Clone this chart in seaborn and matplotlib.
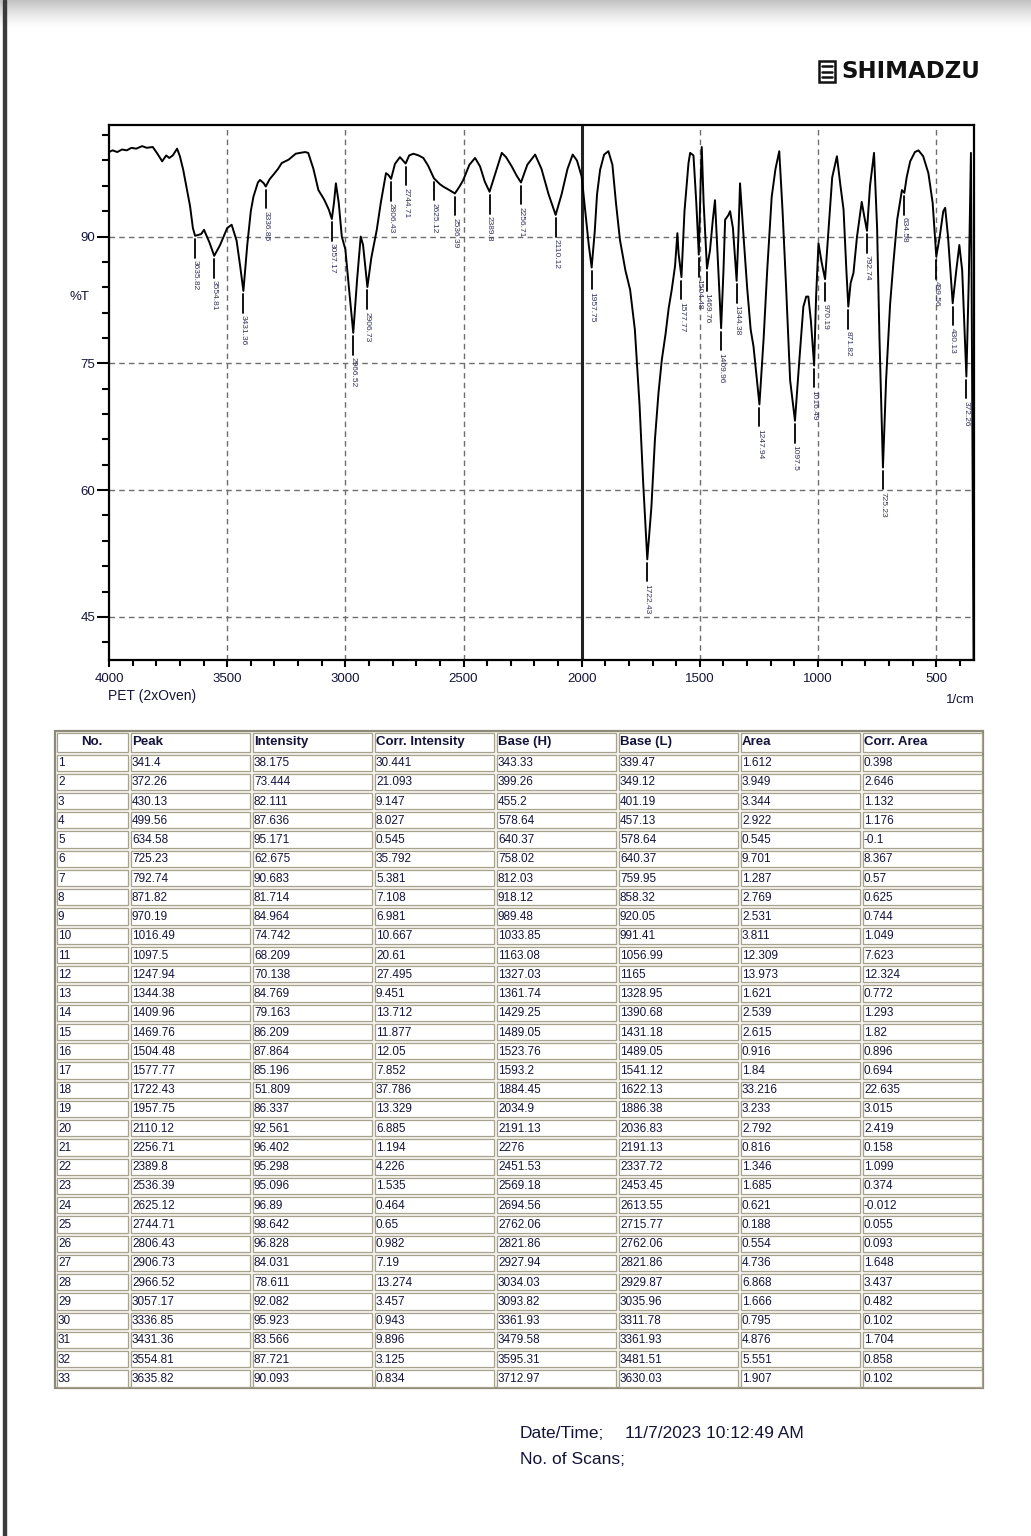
import numpy as np
import pandas as pd
import matplotlib
matplotlib.use("Agg")
import matplotlib.pyplot as plt
import seaborn as sns
from matplotlib.patches import Rectangle
from matplotlib.ticker import MultipleLocator

# --- spectrum trace (1/cm, %T) ---
wavenumber = [
    4000, 3985, 3965, 3945, 3925, 3905, 3885, 3860, 3840, 3815, 3795, 3775, 3758, 3745,
    3730, 3712, 3700, 3686, 3670, 3657, 3645, 3635.82, 3610, 3598, 3575, 3554.81, 3530,
    3500, 3481, 3460, 3445, 3431.36, 3415, 3400, 3389, 3370, 3361, 3345, 3336.85, 3320,
    3305, 3285, 3269, 3240, 3210, 3192, 3170, 3157, 3135, 3114, 3090, 3070, 3057.17,
    3048, 3040, 3028, 3015, 3000, 2985, 2966.52, 2950, 2935, 2925, 2906.73, 2890, 2867,
    2850, 2828, 2818, 2806.43, 2790, 2769, 2744.71, 2730, 2712, 2690, 2670, 2650,
    2625.12, 2600, 2585, 2560, 2536.39, 2515, 2501, 2475, 2451, 2430, 2410, 2389.8,
    2365, 2338, 2320, 2296, 2275, 2256.71, 2230, 2197, 2170, 2140, 2110.12, 2085, 2060,
    2038, 2020, 2000, 1985, 1970, 1957.75, 1945, 1935, 1922, 1905, 1887, 1870, 1855,
    1838, 1815, 1795, 1775, 1755, 1740, 1722.43, 1705, 1690, 1675, 1661, 1645, 1632,
    1619, 1605, 1595, 1590, 1577.77, 1565, 1548, 1541, 1527, 1515, 1504.48, 1497, 1492,
    1484, 1469.76, 1457, 1445, 1436, 1425, 1409.96, 1400, 1393, 1380, 1372, 1360,
    1344.38, 1337, 1330, 1315, 1300, 1285, 1273, 1247.94, 1230, 1215, 1196, 1180, 1164,
    1150, 1135, 1118, 1097.5, 1080, 1062, 1050, 1041, 1030, 1016.49, 1008, 998, 985,
    970.19, 955, 940, 920, 905, 892, 880, 871.82, 862, 850, 835, 815, 805, 792.74, 780,
    763, 750, 740, 725.23, 712, 695, 681, 665, 645, 634.58, 625, 610, 590, 575, 555,
    533, 515, 499.56, 485, 470, 462, 450, 430.13, 415, 402, 390, 372.26, 362, 353, 341.4,
]
transmittance = [
    100.0, 100.2, 100.0, 100.3, 100.2, 100.5, 100.4, 100.7, 100.5, 100.6, 99.8, 98.9, 99.6, 99.3,
    99.6, 100.4, 99.5, 97.9, 95.5, 93.6, 91.0, 90.09, 90.3, 90.8, 89.3, 87.72, 89.0,
    91.0, 91.4, 89.5, 86.5, 83.57, 89.0, 93.0, 94.7, 96.4, 96.7, 96.3, 95.92, 96.8,
    97.3, 98.0, 98.7, 99.1, 99.8, 99.9, 100.0, 99.9, 98.0, 95.5, 94.4, 93.2, 92.08,
    94.0, 96.3, 94.0, 90.0, 88.5, 84.0, 78.61, 85.0, 90.0, 89.0, 84.03, 87.5, 90.8,
    94.0, 97.5, 97.3, 96.83, 98.6, 99.4, 98.64, 99.6, 99.8, 99.6, 99.3, 98.4,
    96.89, 96.2, 95.9, 95.5, 95.10, 96.0, 96.7, 98.5, 99.3, 98.3, 96.5, 95.30,
    97.5, 99.9, 99.4, 98.3, 97.2, 96.40, 98.5, 99.7, 98.0, 95.0, 92.56, 95.0, 98.0,
    99.7, 99.0, 97.1, 93.0, 89.0, 86.34, 90.5, 95.0, 97.9, 99.7, 100.1, 98.5, 94.0,
    89.6, 86.0, 83.7, 79.0, 70.0, 61.0, 51.81, 58.0, 66.0, 71.5, 75.4, 78.5, 81.5,
    83.7, 86.5, 90.4, 88.0, 85.20, 93.0, 98.7, 99.9, 99.6, 94.0, 87.86, 96.0, 100.6,
    94.0, 86.21, 88.4, 92.0, 94.3, 88.0, 79.16, 86.0, 92.0, 92.5, 93.0, 91.0,
    84.77, 90.0, 96.3, 90.0, 84.0, 79.0, 77.0, 70.14, 78.0, 86.0, 94.7, 98.0, 100.1,
    93.0, 84.0, 73.0, 68.21, 75.0, 81.7, 82.9, 82.9, 80.0, 74.74, 83.0, 89.2, 87.0,
    84.96, 91.0, 97.0, 99.5, 96.0, 93.2, 86.0, 81.71, 84.5, 85.7, 90.0, 94.1, 92.5, 90.68, 96.0,
    99.9, 91.0, 78.0, 62.68, 73.0, 82.0, 86.9, 92.0, 95.5, 95.17, 97.0, 98.9, 100.0, 100.2, 99.5,
    97.5, 94.0, 87.64, 90.0, 93.0, 93.4, 90.0, 82.11, 86.0, 89.0, 86.0, 73.44, 85.0, 99.9, 38.18,
]

# --- peak table ---
peak_no = list(range(1, 34))
peak = [341.4, 372.26, 430.13, 499.56, 634.58, 725.23, 792.74, 871.82, 970.19, 1016.49,
        1097.5, 1247.94, 1344.38, 1409.96, 1469.76, 1504.48, 1577.77, 1722.43, 1957.75,
        2110.12, 2256.71, 2389.8, 2536.39, 2625.12, 2744.71, 2806.43, 2906.73, 2966.52,
        3057.17, 3336.85, 3431.36, 3554.81, 3635.82]
intensity = [38.175, 73.444, 82.111, 87.636, 95.171, 62.675, 90.683, 81.714, 84.964, 74.742,
             68.209, 70.138, 84.769, 79.163, 86.209, 87.864, 85.196, 51.809, 86.337,
             92.561, 96.402, 95.298, 95.096, 96.89, 98.642, 96.828, 84.031, 78.611,
             92.082, 95.923, 83.566, 87.721, 90.093]
corr_intensity = [30.441, 21.093, 9.147, 8.027, 0.545, 35.792, 5.381, 7.108, 6.981, 10.667,
                  20.61, 27.495, 9.451, 13.712, 11.877, 12.05, 7.852, 37.786, 13.329,
                  6.885, 1.194, 4.226, 1.535, 0.464, 0.65, 0.982, 7.19, 13.274,
                  3.457, 0.943, 9.896, 3.125, 0.834]
base_h = [343.33, 399.26, 455.2, 578.64, 640.37, 758.02, 812.03, 918.12, 989.48, 1033.85,
          1163.08, 1327.03, 1361.74, 1429.25, 1489.05, 1523.76, 1593.2, 1884.45, 2034.9,
          2191.13, 2276, 2451.53, 2569.18, 2694.56, 2762.06, 2821.86, 2927.94, 3034.03,
          3093.82, 3361.93, 3479.58, 3595.31, 3712.97]
base_l = [339.47, 349.12, 401.19, 457.13, 578.64, 640.37, 759.95, 858.32, 920.05, 991.41,
          1056.99, 1165, 1328.95, 1390.68, 1431.18, 1489.05, 1541.12, 1622.13, 1886.38,
          2036.83, 2191.13, 2337.72, 2453.45, 2613.55, 2715.77, 2762.06, 2821.86, 2929.87,
          3035.96, 3311.78, 3361.93, 3481.51, 3630.03]
area = [1.612, 3.949, 3.344, 2.922, 0.545, 9.701, 1.287, 2.769, 2.531, 3.811,
        12.309, 13.973, 1.621, 2.539, 2.615, 0.916, 1.84, 33.216, 3.233,
        2.792, 0.816, 1.346, 1.685, 0.621, 0.188, 0.554, 4.736, 6.868,
        1.666, 0.795, 4.876, 5.551, 1.907]
corr_area = [0.398, 2.646, 1.132, 1.176, -0.1, 8.367, 0.57, 0.625, 0.744, 1.049,
             7.623, 12.324, 0.772, 1.293, 1.82, 0.896, 0.694, 22.635, 3.015,
             2.419, 0.158, 1.099, 0.374, -0.012, 0.055, 0.093, 1.648, 3.437,
             0.482, 0.102, 1.704, 0.858, 0.102]

headers = ['No.', 'Peak', 'Intensity', 'Corr. Intensity', 'Base (H)', 'Base (L)', 'Area', 'Corr. Area']

W, H = 1031, 1536
TXT = '#14143a'
Y_MIN, Y_MAX = 39.9, 103.2

sns.set_style("white")
plt.rcParams['font.family'] = ['Liberation Sans', 'DejaVu Sans']

fig = plt.figure(figsize=(W / 100, H / 100), dpi=100)

# page layer in pixel coordinates
page = fig.add_axes([0, 0, 1, 1], zorder=0)
page.set_xlim(0, W)
page.set_ylim(H, 0)
page.axis('off')

grad = np.linspace(0, 1, 60).reshape(-1, 1)
page.imshow(grad, extent=(0, W, 28, 0), cmap='Greys_r', vmin=-1.8, vmax=1.0, aspect='auto')
page.add_patch(Rectangle((2.5, 0), 3.5, H, color='#3c3c3c'))

# logo
page.add_patch(Rectangle((819, 61), 16, 21, fc='white', ec='#111111', lw=1.8))
for yy in (66, 71.5, 77):
    page.plot([822, 832], [yy, yy], color='#111111', lw=1.8)
page.text(841, 71.5, 'SHIMADZU', fontsize=16.5, fontweight='bold', family='DejaVu Sans',
          va='center', ha='left', color='#111111')

# --- spectrum ---
ax = fig.add_axes([109 / W, 1 - 660 / H, (974 - 109) / W, (660 - 125) / H], zorder=2)
sns.lineplot(x=wavenumber, y=transmittance, ax=ax, color='black', lw=1.4,
             sort=False, estimator=None)
ax.set_xlim(4000, 340)
ax.set_ylim(Y_MIN, Y_MAX)

ax.set_xticks([4000, 3500, 3000, 2500, 2000, 1500, 1000, 500])
ax.set_yticks([45, 60, 75, 90])
ax.xaxis.set_minor_locator(MultipleLocator(100))
ax.yaxis.set_minor_locator(MultipleLocator(3))
ax.tick_params(bottom=True, left=True, which='both', direction='out', width=1.5,
               colors='black', labelcolor=TXT, labelsize=9.5)
ax.tick_params(axis='y', which='major', length=9, pad=1)
ax.tick_params(axis='y', which='minor', length=5)
ax.tick_params(axis='x', which='major', length=5, pad=4)
ax.tick_params(axis='x', which='minor', length=4)
for s in ax.spines.values():
    s.set_linewidth(1.6)
    s.set_color('black')

for x in [3500, 3000, 2500, 1500, 1000, 500]:
    ax.axvline(x, color='#6e6e6e', lw=1, ls=(0, (4, 3)), zorder=0)
for y in [45, 60, 75, 90]:
    ax.axhline(y, color='#6e6e6e', lw=1, ls=(0, (4, 3)), zorder=0)
ax.axvline(2000, color='#222222', lw=2.2, zorder=1)

# peak markers (only those whose minimum lies inside the plotted range)
for p, t in zip(peak, intensity):
    if t - 3 < Y_MIN:
        continue
    ax.plot([p, p], [t - 0.4, t - 2.6], color='black', lw=1.3)
    ax.text(p, t - 2.9, f"{p:g}", rotation=270, ha='center', va='top', fontsize=6,
            color='#33335a')

ax.set_xlabel('')
ax.set_ylabel('')
page.text(69, 297, '%T', fontsize=9.5, va='center', ha='left', color=TXT)
page.text(108, 696, 'PET (2xOven)', fontsize=10, va='center', ha='left', color=TXT)
page.text(975, 700, '1/cm', fontsize=9.5, va='center', ha='right', color=TXT)

# --- peak table ---
table = pd.DataFrame({
    'No.': peak_no, 'Peak': peak, 'Intensity': intensity, 'Corr. Intensity': corr_intensity,
    'Base (H)': base_h, 'Base (L)': base_l, 'Area': area, 'Corr. Area': corr_area,
})
col_x = [55, 129, 251, 373, 495, 617, 739, 861, 983]
top, head_h = 731, 22
row_h = (1388 - top - head_h) / len(table)
cell_ec = '#a6a28e'

page.add_patch(Rectangle((col_x[0], top), col_x[-1] - col_x[0], 1388 - top,
                         fc='#f4f3ee', ec='#8e8a78', lw=1.6))
for j, name in enumerate(headers):
    x0, x1 = col_x[j], col_x[j + 1]
    page.add_patch(Rectangle((x0 + 1.5, top + 1.5), x1 - x0 - 3, head_h - 3,
                             fc='white', ec=cell_ec, lw=0.9))
    if j == 0:
        page.text((x0 + x1) / 2, top + head_h / 2, name, fontsize=9.5, fontweight='bold',
                  ha='center', va='center', color=TXT)
    else:
        page.text(x0 + 3, top + head_h / 2, name, fontsize=9.5, fontweight='bold',
                  ha='left', va='center', color=TXT)

for i, row in enumerate(table.itertuples(index=False)):
    y0 = top + head_h + i * row_h
    for j, v in enumerate(row):
        x0, x1 = col_x[j], col_x[j + 1]
        page.add_patch(Rectangle((x0 + 1.5, y0 + 1.5), x1 - x0 - 3, row_h - 3,
                                 fc='white', ec=cell_ec, lw=0.9))
        page.text(x0 + 3, y0 + row_h / 2 + 0.5, f"{v:g}", fontsize=8.5, ha='left',
                  va='center', color=TXT)

# footer
page.text(520, 1433, 'Date/Time;', fontsize=12.5, va='center', color=TXT)
page.text(625, 1433, '11/7/2023 10:12:49 AM', fontsize=12.5, va='center', color=TXT)
page.text(520, 1460, 'No. of Scans;', fontsize=12.5, va='center', color=TXT)

fig.savefig('out.png', dpi=100)
plt.close(fig)
